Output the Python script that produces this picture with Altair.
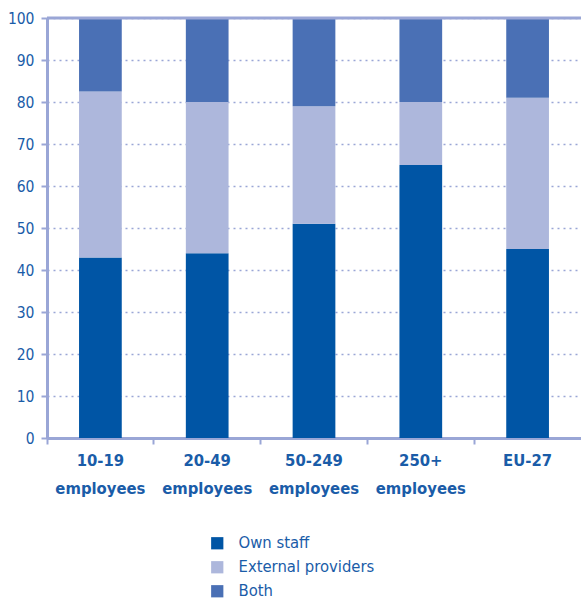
import altair as alt
import pandas as pd

categories = ["10-19 employees", "20-49 employees", "50-249 employees", "250+ employees", "EU-27"]
series = ["Own staff", "External providers", "Both"]
own_staff = [43, 44, 51, 65, 45]
external = [39.5, 36, 28, 15, 36]
both = [17.5, 20, 21, 20, 19]
colors = ["#0055a5", "#adb7dc", "#4a70b5"]

rows = []
for i, c in enumerate(categories):
    for s, vals, o in zip(series, [own_staff, external, both], [0, 1, 2]):
        rows.append({"cat": c, "series": s, "value": vals[i], "order": o})
df = pd.DataFrame(rows)

FONT = "DejaVu Sans Condensed, sans-serif"
TXT = "#1a5ca8"
AX = "#9aa6d6"

bars = alt.Chart(df).mark_bar(width={"band": 0.4}).encode(
    x=alt.X("cat:N", sort=categories, title=None,
            scale=alt.Scale(paddingInner=0, paddingOuter=0),
            axis=alt.Axis(labelExpr="split(datum.label, ' ')", labelAngle=0,
                          labelFont=FONT, labelFontSize=16.5, labelFontWeight="bold",
                          labelColor=TXT, labelPadding=8, labelLineHeight=28,
                          bandPosition=0, domainColor=AX, domainWidth=3,
                          tickColor=AX, tickWidth=2, tickSize=6, labelBaseline="top")),
    y=alt.Y("value:Q", title=None, stack="zero",
            scale=alt.Scale(domain=[0, 100], nice=False),
            axis=alt.Axis(values=list(range(0, 101, 10)), labelFont=FONT, labelFontSize=15.5,
                          labelColor=TXT, labelPadding=7, domainColor=AX, domainWidth=3,
                          tickColor=AX, tickWidth=2, tickSize=6,
                          grid=True, gridColor=AX, gridDash=[2, 4], gridWidth=1.5)),
    color=alt.Color("series:N", sort=series,
                    scale=alt.Scale(domain=series, range=colors),
                    legend=alt.Legend(title=None, orient="none", legendX=162, legendY=517,
                                      symbolType="square", symbolSize=150, symbolStrokeWidth=0,
                                      labelFont=FONT, labelFontSize=16.5, labelColor=TXT,
                                      rowPadding=7, labelOffset=13)),
    order=alt.Order("order:Q"),
)

top_rule = alt.Chart(pd.DataFrame({"y": [100]})).mark_rule(color=AX, strokeWidth=3).encode(
    y=alt.Y("y:Q")
)

chart = alt.layer(bars, top_rule).properties(
    width=534, height=420,
    autosize=alt.AutoSizeParams(type="none"),
    padding={"left": 47, "top": 18, "right": 0, "bottom": 162},
).configure_view(stroke=None)

chart.save("out.html", embed_options={"renderer": "svg", "actions": False})
